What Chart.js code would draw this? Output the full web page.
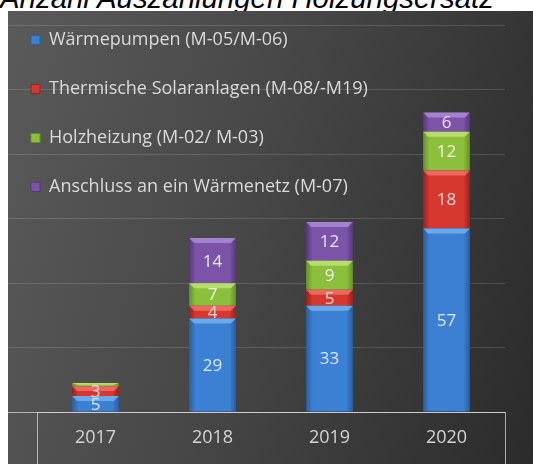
<!DOCTYPE html>
<html>
<head>
<meta charset="utf-8">
<script src="https://cdn.jsdelivr.net/npm/chart.js@4.4.1/dist/chart.umd.min.js"></script>
<style>
  html, body { margin: 0; padding: 0; background: #fff; }
  body { width: 533px; height: 464px; position: relative; overflow: hidden; }
  #title {
    position: absolute; left: 0; top: -17px;
    font: italic 29.4px/30px "Liberation Sans", Arial, sans-serif;
    color: #000; white-space: nowrap;
  }
  #panel {
    position: absolute; left: 8px; top: 11px; width: 525px; height: 453px;
    background: linear-gradient(105deg, #5a5a5a 0%, #474747 45%, #2b2b2b 100%);
  }
  canvas { display: block; }
</style>
</head>
<body>
<div id="title">Anzahl Auszahlungen Holzungsersatz</div>
<div id="panel"><canvas id="chart" width="525" height="453"></canvas></div>
<script>
const years = ["2017", "2018", "2019", "2020"];
const seriesNames = [
  "Wärmepumpen (M-05/M-06)",
  "Thermische Solaranlagen (M-08/-M19)",
  "Holzheizung (M-02/ M-03)",
  "Anschluss an ein Wärmenetz (M-07)"
];
const waermepumpen = [5, 29, 33, 57];
const solar = [3, 4, 5, 18];
const holz = [1, 7, 9, 12];
const waermenetz = [0, 14, 12, 6];
const yTicks = [0, 20, 40, 60, 80, 100, 120];

// colours: edge / body / top cap / label
const palette = [
  { edge: "#2a5e9e", mid: "#3b80d2", cap: "#7ab8f4", text: "#dce8f8" },
  { edge: "#9a211c", mid: "#d6382f", cap: "#f07a70", text: "#f4d6d2" },
  { edge: "#66902a", mid: "#8cc03c", cap: "#c4e87e", text: "#eef6dc" },
  { edge: "#56387c", mid: "#7b54a8", cap: "#b392dc", text: "#ece4f6" }
];

const BAR_PCT = 0.4;
const axisCol = "rgba(215,215,215,0.75)";
const gridCol = "rgba(255,255,255,0.14)";

function barFill(c) {
  const col = palette[c.datasetIndex];
  const chart = c.chart;
  if (!chart.chartArea || !chart.scales.x) return col.mid;
  const xs = chart.scales.x;
  const cx = xs.getPixelForValue(c.dataIndex);
  const w = xs.width / years.length * BAR_PCT;
  const g = chart.ctx.createLinearGradient(cx - w / 2, 0, cx + w / 2, 0);
  g.addColorStop(0, col.edge);
  g.addColorStop(0.14, col.mid);
  g.addColorStop(0.86, col.mid);
  g.addColorStop(1, col.edge);
  return g;
}

/* ---------- plugins ---------- */
// legend sits inside the plot, top left
const legendPlacer = {
  id: "legendPlacer",
  afterLayout(chart) {
    const lg = chart.legend;
    lg.left = -8;
    lg.top = -11;
    lg.right = 420;
    lg.bottom = 440;
  }
};

const barBevel = {
  id: "barBevel",
  afterDatasetsDraw(chart) {
    const ctx = chart.ctx;
    chart.data.datasets.forEach((ds, di) => {
      const meta = chart.getDatasetMeta(di);
      meta.data.forEach((el, i) => {
        if (!ds.data[i]) return;
        const h = Math.abs(el.base - el.y);
        const cap = Math.min(5, h / 2);
        const l = el.x - el.width / 2, r = el.x + el.width / 2;
        ctx.save();
        ctx.fillStyle = palette[di].cap;
        ctx.globalAlpha = 0.75;
        ctx.beginPath();
        ctx.moveTo(l, el.y);
        ctx.lineTo(r, el.y);
        ctx.lineTo(r - 5, el.y + cap);
        ctx.lineTo(l + 5, el.y + cap);
        ctx.closePath();
        ctx.fill();
        ctx.restore();
      });
    });
  }
};

const valueLabels = {
  id: "valueLabels",
  afterDatasetsDraw(chart) {
    const ctx = chart.ctx;
    ctx.save();
    ctx.font = "17px 'Open Sans'";
    ctx.textAlign = "center";
    ctx.textBaseline = "middle";
    chart.data.datasets.forEach((ds, di) => {
      const meta = chart.getDatasetMeta(di);
      meta.data.forEach((el, i) => {
        const v = ds.data[i];
        if (v < 2) return;
        ctx.fillStyle = palette[di].text;
        ctx.fillText(String(v), el.x, (el.y + el.base) / 2 + 1);
      });
    });
    ctx.restore();
  }
};

/* ---------- chart ---------- */
const seriesValues = [waermepumpen, solar, holz, waermenetz];

new Chart(document.getElementById("chart"), {
  type: "bar",
  data: {
    labels: years,
    datasets: seriesNames.map((name, i) => ({
      label: name,
      data: seriesValues[i],
      backgroundColor: barFill,
      borderWidth: 0,
      barPercentage: BAR_PCT,
      categoryPercentage: 1
    }))
  },
  options: {
    responsive: false,
    animation: false,
    devicePixelRatio: 1,
    layout: { padding: { top: 14.6, right: 28, left: 0, bottom: 0 } },
    plugins: {
      legend: {
        position: "chartArea",
        align: "start",
        labels: {
          color: "#dadada",
          font: { family: "'Open Sans'", size: 18 },
          boxWidth: 9,
          boxHeight: 9,
          padding: 31,
          generateLabels(chart) {
            return chart.data.datasets.map((ds, i) => ({
              text: ds.label,
              fillStyle: palette[i].mid,
              strokeStyle: palette[i].edge,
              lineWidth: 1,
              fontColor: "#dadada",
              datasetIndex: i
            }));
          }
        }
      },
      tooltip: { enabled: false }
    },
    scales: {
      x: {
        stacked: true,
        grid: {
          offset: true,
          drawOnChartArea: false,
          tickLength: 52,
          color: c => (c.type === "scale" || c.index === 0) ? axisCol : "transparent"
        },
        border: { color: axisCol },
        ticks: { color: "#d4d4d4", font: { family: "'Open Sans'", size: 18 }, padding: -37 },
        afterFit: s => { s.height = 52; }
      },
      y: {
        stacked: true,
        min: yTicks[0],
        max: yTicks[yTicks.length - 1],
        afterBuildTicks: s => { s.ticks = yTicks.map(v => ({ value: v })); },
        grid: {
          tickLength: 29,
          color: c => c.tick && c.tick.value === 0 ? axisCol : gridCol
        },
        border: { display: false },
        ticks: { display: false }
      }
    }
  },
  plugins: [legendPlacer, barBevel, valueLabels]
});
</script>
</body>
</html>
